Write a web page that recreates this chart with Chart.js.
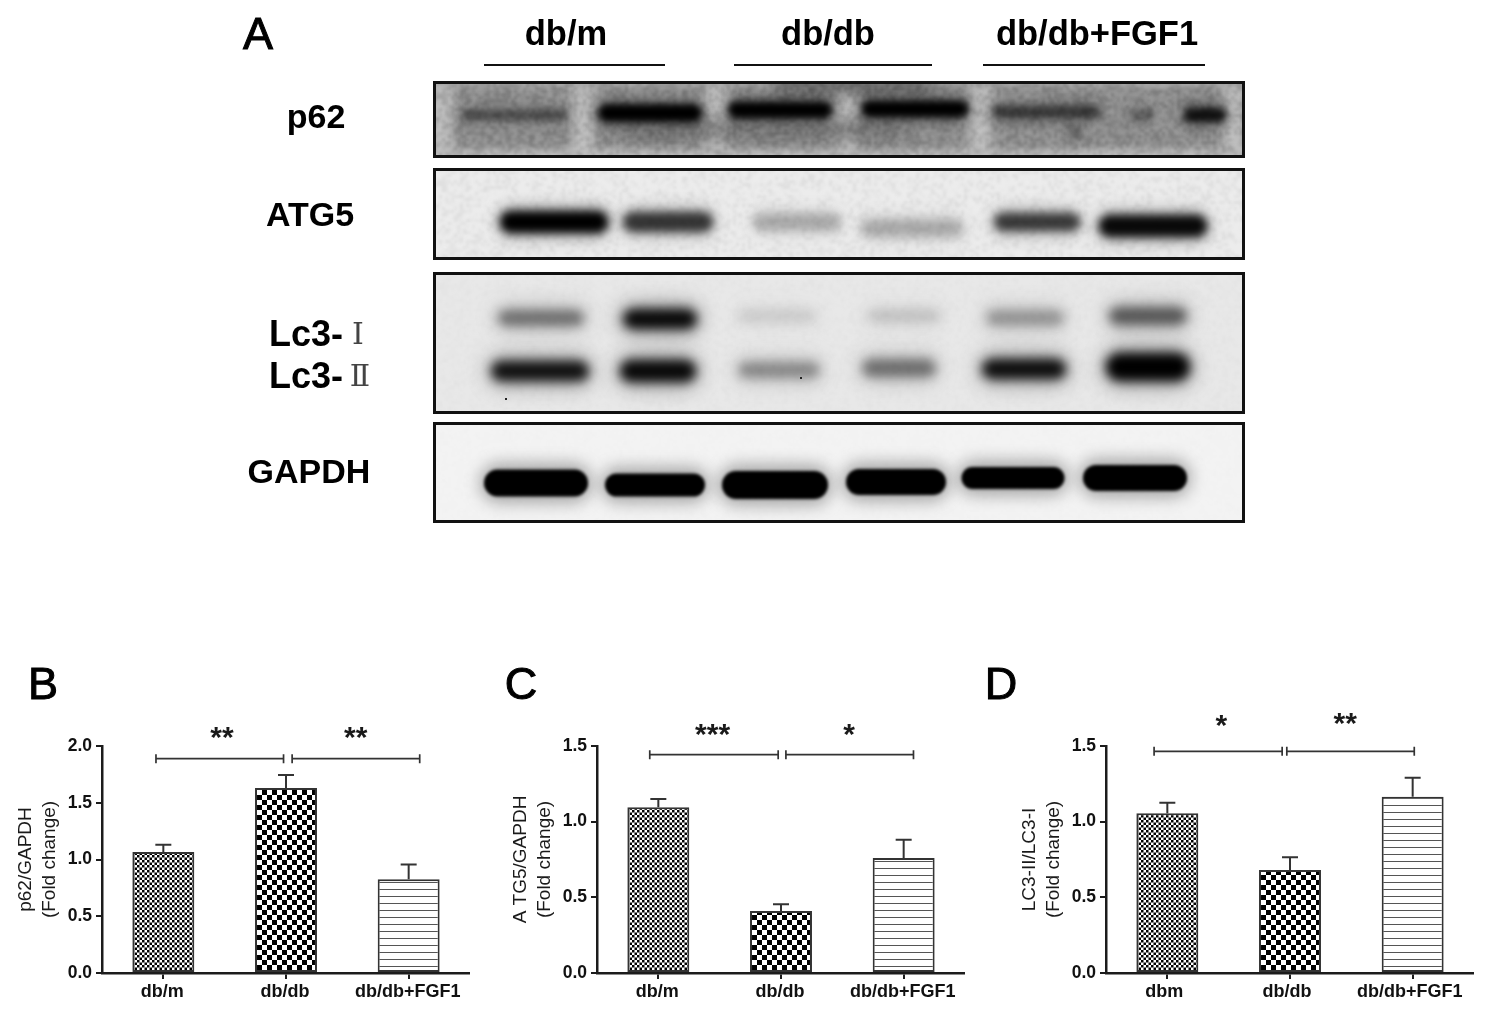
<!DOCTYPE html>
<html><head><meta charset="utf-8">
<script src="https://cdn.jsdelivr.net/npm/chart.js@4"></script>
<style>
html,body{margin:0;padding:0;background:#fff;overflow:hidden}
#page{position:relative;width:1488px;height:1012px;filter:blur(.45px);font-family:"Liberation Sans",Arial,sans-serif;color:#000}
canvas{position:absolute;display:block}
.t{position:absolute;white-space:nowrap;transform:translate(-50%,-50%);line-height:1}
.h{font-weight:bold;font-size:34.5px}
.r{font-weight:bold;font-size:34px}
.lc{font-weight:bold;font-size:36px}
.l{font-size:45px;-webkit-text-stroke:1px #000}
.n{font-family:"DejaVu Serif",serif;font-weight:normal;font-size:30px;color:#444}
.u{position:absolute;height:2px;background:#111;top:64px}
</style></head>
<body>
<div id="page">
  <div class="t l" style="left:258px;top:33px">A</div>
  <div class="t l" style="left:43px;top:683px">B</div>
  <div class="t l" style="left:521px;top:683px">C</div>
  <div class="t l" style="left:1001px;top:683px">D</div>
  <div class="t h" style="left:566px;top:33px">db/m</div>
  <div class="t h" style="left:828px;top:33px">db/db</div>
  <div class="t h" style="left:1097px;top:33px">db/db+FGF1</div>
  <div class="u" style="left:484px;width:181px"></div>
  <div class="u" style="left:734px;width:198px"></div>
  <div class="u" style="left:983px;width:222px"></div>
  <div class="t r" style="left:316px;top:116px">p62</div>
  <div class="t r" style="left:310px;top:214px">ATG5</div>
  <div class="t lc" style="left:306px;top:334px">Lc3-</div>
  <div class="t n" style="left:358px;top:334px">Ⅰ</div>
  <div class="t lc" style="left:306px;top:376px">Lc3-</div>
  <div class="t n" style="left:360px;top:376px">Ⅱ</div>
  <div class="t r" style="left:309px;top:471px">GAPDH</div>
  <canvas id="gelP62" style="left:433px;top:81px" width="812" height="77"></canvas>
  <canvas id="gelAtg5" style="left:433px;top:168px" width="812" height="92"></canvas>
  <canvas id="gelLc3" style="left:433px;top:272px" width="812" height="142"></canvas>
  <canvas id="gelGapdh" style="left:433px;top:422px" width="812" height="101"></canvas>
  <canvas id="chartB" style="left:2px;top:700px" width="468" height="312"></canvas>
  <canvas id="chartC" style="left:497px;top:700px" width="468" height="312"></canvas>
  <canvas id="chartD" style="left:1006px;top:700px" width="468" height="312"></canvas>
</div>
<script>
// ---------- bar chart data ----------
const bCategories = ['db/m', 'db/db', 'db/db+FGF1'];
const bValues = [1.065, 1.63, 0.825];
const bErrTops = [1.13, 1.745, 0.955];
const bBracketFrom = [-0.06, 1.05];
const bBracketTo = [0.98, 2.09];
const bBracketY = [1.888, 1.888];
const bStars = ['**', '**'];
const bStarX = [0.478, 1.569];
const bStarY = [2.097, 2.097];

const cCategories = ['db/m', 'db/db', 'db/db+FGF1'];
const cValues = [1.095, 0.41, 0.76];
const cErrTops = [1.15, 0.455, 0.88];
const cBracketFrom = [-0.07, 1.04];
const cBracketTo = [0.977, 2.08];
const cBracketY = [1.443, 1.443];
const cStars = ['***', '*'];
const cStarX = [0.442, 1.556];
const cStarY = [1.593, 1.593];

const dCategories = ['dbm', 'db/db', 'db/db+FGF1'];
const dValues = [1.055, 0.68, 1.165];
const dErrTops = [1.125, 0.765, 1.29];
const dBracketFrom = [-0.108, 0.974];
const dBracketTo = [0.936, 2.013];
const dBracketY = [1.465, 1.465];
const dStars = ['*', '**'];
const dStarX = [0.441, 1.45];
const dStarY = [1.655, 1.666];

// ---------- western-blot band readings (lane position, row position, density) ----------
const p62Lane = [82, 217, 347, 482, 613, 709, 772, 641];
const p62Row = [34, 32, 29, 28, 31, 34, 34, 51];
const p62Density = [0.42, 1, 1, 1, 0.55, 0.35, 0.85, 0.3];
const p62Streak = [149, 282, 413, 546, 8, 800];

const atg5Lane = [121, 235, 364, 479, 604, 720];
const atg5Row = [54, 54, 54, 60, 54, 58];
const atg5Density = [1, 0.72, 0.22, 0.22, 0.7, 0.95];

const lc3Lane = [108, 227, 344, 471, 592, 715, 107, 225, 346, 466, 591, 715];
const lc3Row = [46, 47, 44, 44, 46, 44, 99, 99, 98, 96, 97, 95];
const lc3Density = [0.45, 0.95, 0.1, 0.14, 0.3, 0.55, 0.9, 0.95, 0.35, 0.45, 0.92, 1];

const gapdhLane = [103, 222, 342, 463, 580, 702];
const gapdhRow = [61, 63, 63, 60, 56, 56];
const gapdhDensity = [1, 1, 1, 1, 1, 1];

// ---------- styling ----------
const FONT = '"Liberation Sans", Arial, sans-serif';
const INK = '#1c1c1c';

function checker(cell) {
  const c = document.createElement('canvas');
  c.width = c.height = cell * 2;
  const x = c.getContext('2d');
  x.fillStyle = '#fff'; x.fillRect(0, 0, cell * 2, cell * 2);
  x.fillStyle = '#000';
  x.fillRect(0, 0, cell, cell); x.fillRect(cell, cell, cell, cell);
  return x.createPattern(c, 'repeat');
}
function stripes(pitch) {
  const c = document.createElement('canvas');
  c.width = 4; c.height = pitch;
  const x = c.getContext('2d');
  x.fillStyle = '#fff'; x.fillRect(0, 0, 4, pitch);
  x.fillStyle = '#555'; x.fillRect(0, 0, 4, 1);
  return x.createPattern(c, 'repeat');
}

const errorPlugin = {
  id: 'errorBars',
  beforeDatasetsDraw(chart, args, o) {
    const { ctx, scales: { x, y } } = chart;
    ctx.save();
    ctx.strokeStyle = '#333'; ctx.lineWidth = 2;
    o.tops.forEach((top, i) => {
      const px = x.getPixelForValue(i), py = y.getPixelForValue(top), base = y.getPixelForValue(o.values[i]);
      ctx.beginPath();
      ctx.moveTo(px, base); ctx.lineTo(px, py);
      ctx.moveTo(px - 8, py); ctx.lineTo(px + 8, py);
      ctx.stroke();
    });
    ctx.restore();
  }
};
const bracketPlugin = {
  id: 'brackets',
  afterDraw(chart, args, o) {
    const { ctx, scales: { x, y } } = chart;
    const cx = v => x.getPixelForValue(0) + v * (x.getPixelForValue(1) - x.getPixelForValue(0));
    ctx.save();
    ctx.strokeStyle = '#333'; ctx.lineWidth = 1.7;
    o.from.forEach((f, i) => {
      const a = cx(f), b = cx(o.to[i]), py = y.getPixelForValue(o.y[i]);
      ctx.beginPath();
      ctx.moveTo(a, py); ctx.lineTo(b, py);
      ctx.moveTo(a, py - 4.5); ctx.lineTo(a, py + 4.5);
      ctx.moveTo(b, py - 4.5); ctx.lineTo(b, py + 4.5);
      ctx.stroke();
      ctx.fillStyle = '#1a1a1a';
      ctx.font = 'bold 30px ' + FONT;
      ctx.textAlign = 'center'; ctx.textBaseline = 'alphabetic';
      ctx.fillText(o.stars[i], cx(o.starX[i]), y.getPixelForValue(o.starY[i]) + 12);
    });
    ctx.restore();
  }
};

function barChart(id, cats, vals, tops, yMax, title, br, labelShift) {
  return new Chart(document.getElementById(id), {
    type: 'bar',
    data: { labels: cats, datasets: [{
      data: vals,
      backgroundColor: [checker(2.5), checker(5), stripes(7)],
      borderColor: '#333', borderWidth: 2, borderSkipped: false,
      barPercentage: 0.505, categoryPercentage: 1
    }]},
    options: {
      responsive: false, animation: false,
      layout: { padding: { top: 46, left: 0, right: 0, bottom: 0 } },
      plugins: {
        legend: { display: false }, tooltip: { enabled: false },
        errorBars: { tops, values: vals },
        brackets: br
      },
      scales: {
        x: {
          offset: true,
          afterFit(s) { s.height = 39; },
          border: { color: INK, width: 2.5 },
          grid: { offset: false, drawOnChartArea: false, drawTicks: true, tickLength: 6, color: INK, lineWidth: 2 },
          ticks: { color: '#111', padding: 2, maxRotation: 0, labelOffset: labelShift, font: { family: FONT, weight: 'bold', size: 18 } }
        },
        y: {
          min: 0, max: yMax,
          afterFit(s) { s.width = 100; },
          border: { color: INK, width: 2.5 },
          grid: { drawOnChartArea: false, drawTicks: true, tickLength: 6, color: INK, lineWidth: 2 },
          ticks: { stepSize: 0.5, color: '#111', padding: 4, callback: v => v.toFixed(1), font: { family: FONT, weight: 'bold', size: 17.5 } },
          title: { display: true, text: title, color: '#1a1a1a', padding: { top: 12, bottom: 0 }, font: { family: FONT, size: 19, lineHeight: 1.27 } }
        }
      }
    },
    plugins: [errorPlugin, bracketPlugin]
  });
}

barChart('chartB', bCategories, bValues, bErrTops, 2, ['p62/GAPDH', '(Fold change)'],
  { from: bBracketFrom, to: bBracketTo, y: bBracketY, stars: bStars, starX: bStarX, starY: bStarY }, -1);
barChart('chartC', cCategories, cValues, cErrTops, 1.5, ['A TG5/GAPDH', '(Fold change)'],
  { from: cBracketFrom, to: cBracketTo, y: cBracketY, stars: cStars, starX: cStarX, starY: cStarY }, -1);
barChart('chartD', dCategories, dValues, dErrTops, 1.5, ['LC3-II/LC3-I', '(Fold change)'],
  { from: dBracketFrom, to: dBracketTo, y: dBracketY, stars: dStars, starX: dStarX, starY: dStarY }, -3);

// ---------- gels: each band is a point of a scatter dataset, drawn as a blurred smear ----------
function grainLayer(w, h, amount) {   // fixed film-grain texture from an integer hash, not data
  const cell = 3, gw = Math.ceil(w / cell), gh = Math.ceil(h / cell);
  const c = document.createElement('canvas'); c.width = gw; c.height = gh;
  const g = c.getContext('2d'), im = g.createImageData(gw, gh);
  for (let j = 0; j < gh; j++) for (let i = 0; i < gw; i++) {
    let v = (i * 374761393 + j * 668265263) | 0;
    v = Math.imul(v ^ (v >>> 13), 1274126177);
    const m = ((v ^ (v >>> 16)) >>> 0) / 4294967295 - 0.5, k = (i + j * gw) * 4;
    im.data[k] = im.data[k + 1] = im.data[k + 2] = m > 0 ? 255 : 0;
    im.data[k + 3] = Math.abs(m) * amount * 255;
  }
  g.putImageData(im, 0, 0);
  return c;
}
const gelPlugin = {
  id: 'gel',
  beforeDatasetsDraw(chart, args, o) {
    const { ctx, scales: { x, y }, width, height } = chart;
    const pts = chart.data.datasets[0].data;
    ctx.save();
    ctx.fillStyle = o.background; ctx.fillRect(0, 0, width, height);
    ctx.beginPath(); ctx.rect(3, 3, width - 6, height - 6); ctx.clip();
    (o.haze || []).forEach(h => {
      ctx.filter = `blur(${h.blur}px)`;
      ctx.fillStyle = h.color;
      ctx.fillRect(h.x, h.y, h.w, h.h);
    });
    if (o.grain) {
      ctx.filter = 'blur(1px)';
      ctx.drawImage(grainLayer(width, height, o.grain), 0, 0, Math.ceil(width / 3) * 3, Math.ceil(height / 3) * 3);
    }
    ctx.filter = 'none';
    pts.forEach((p, i) => {
      const s = o.shapes[i];
      const rw = s[0], rh = s[1];
      const px = x.getPixelForValue(p.x), py = y.getPixelForValue(p.y);
      const a = p.d;
      ctx.filter = `blur(${o.haloBlur}px)`;
      ctx.fillStyle = `rgba(0,0,0,${a * o.haloAlpha})`;
      ctx.beginPath();
      ctx.roundRect(px - rw / 2 - 4, py - rh / 2 - 6, rw + 8, rh + 12, (rh + 12) / 2);
      ctx.fill();
      ctx.filter = `blur(${o.coreBlur}px)`;
      ctx.fillStyle = `rgba(0,0,0,${Math.min(1, a)})`;
      ctx.beginPath();
      ctx.roundRect(px - rw / 2, py - rh / 2, rw, rh, rh / 2);
      ctx.fill();
    });
    ctx.filter = 'none';
    (o.specks || []).forEach(s => {
      ctx.fillStyle = '#222'; ctx.fillRect(s[0], s[1], 2, 2);
    });
    ctx.restore();
  },
  afterDraw(chart) {
    const { ctx, width, height } = chart;
    ctx.save();
    ctx.strokeStyle = '#111'; ctx.lineWidth = 3;
    ctx.strokeRect(1.5, 1.5, width - 3, height - 3);
    ctx.restore();
  }
};

function gel(id, lanes, rows, dens, o) {
  const cv = document.getElementById(id);
  return new Chart(cv, {
    type: 'scatter',
    data: { datasets: [{ data: lanes.map((l, i) => ({ x: l, y: rows[i], d: dens[i] })), pointRadius: 0 }] },
    options: {
      responsive: false, animation: false,
      plugins: { legend: { display: false }, tooltip: { enabled: false }, gel: o },
      layout: { padding: 0 },
      scales: {
        x: { display: false, min: 0, max: cv.width },
        y: { display: false, min: 0, max: cv.height, reverse: true }
      }
    },
    plugins: [gelPlugin]
  });
}

gel('gelP62', p62Lane, p62Row, p62Density, {
  background: '#8e8e8e', haloBlur: 8, coreBlur: 3.5, haloAlpha: 0.28, grain: 0.3,
  shapes: [[106, 11], [104, 18], [104, 17], [107, 17], [108, 13], [26, 9], [43, 15], [10, 14]],
  haze: [
    ...p62Streak.map(s => ({ x: s - 10, y: -10, w: 22, h: 97, color: '#bdbdbd', blur: 6 })),
    { x: 0, y: 68, w: 812, h: 12, color: '#b8b8b8', blur: 3 },
    { x: 0, y: -4, w: 812, h: 10, color: '#a4a4a4', blur: 3 },
    { x: 340, y: -6, w: 160, h: 20, color: '#696969', blur: 7 },
    { x: 190, y: 40, w: 280, h: 18, color: '#757575', blur: 8 }
  ]
});
gel('gelAtg5', atg5Lane, atg5Row, atg5Density, {
  background: '#ececec', haloBlur: 7, coreBlur: 4, haloAlpha: 0.28, grain: 0.13,
  shapes: [[108, 22], [90, 20], [88, 18], [102, 18], [86, 18], [108, 22]]
});
gel('gelLc3', lc3Lane, lc3Row, lc3Density, {
  background: '#e8e8e8', haloBlur: 10, coreBlur: 5.5, haloAlpha: 0.35, grain: 0.04,
  shapes: [[86, 16], [74, 20], [78, 12], [72, 12], [78, 16], [78, 18], [98, 20], [76, 22], [82, 16], [74, 18], [84, 20], [84, 28]],
  specks: [[72, 126], [367, 105]]
});
gel('gelGapdh', gapdhLane, gapdhRow, gapdhDensity, {
  background: '#f3f3f3', haloBlur: 8, coreBlur: 1.8, haloAlpha: 0.32, grain: 0.02,
  shapes: [[104, 27], [100, 23], [106, 28], [100, 26], [103, 22], [104, 26]]
});
</script>
</body></html>
